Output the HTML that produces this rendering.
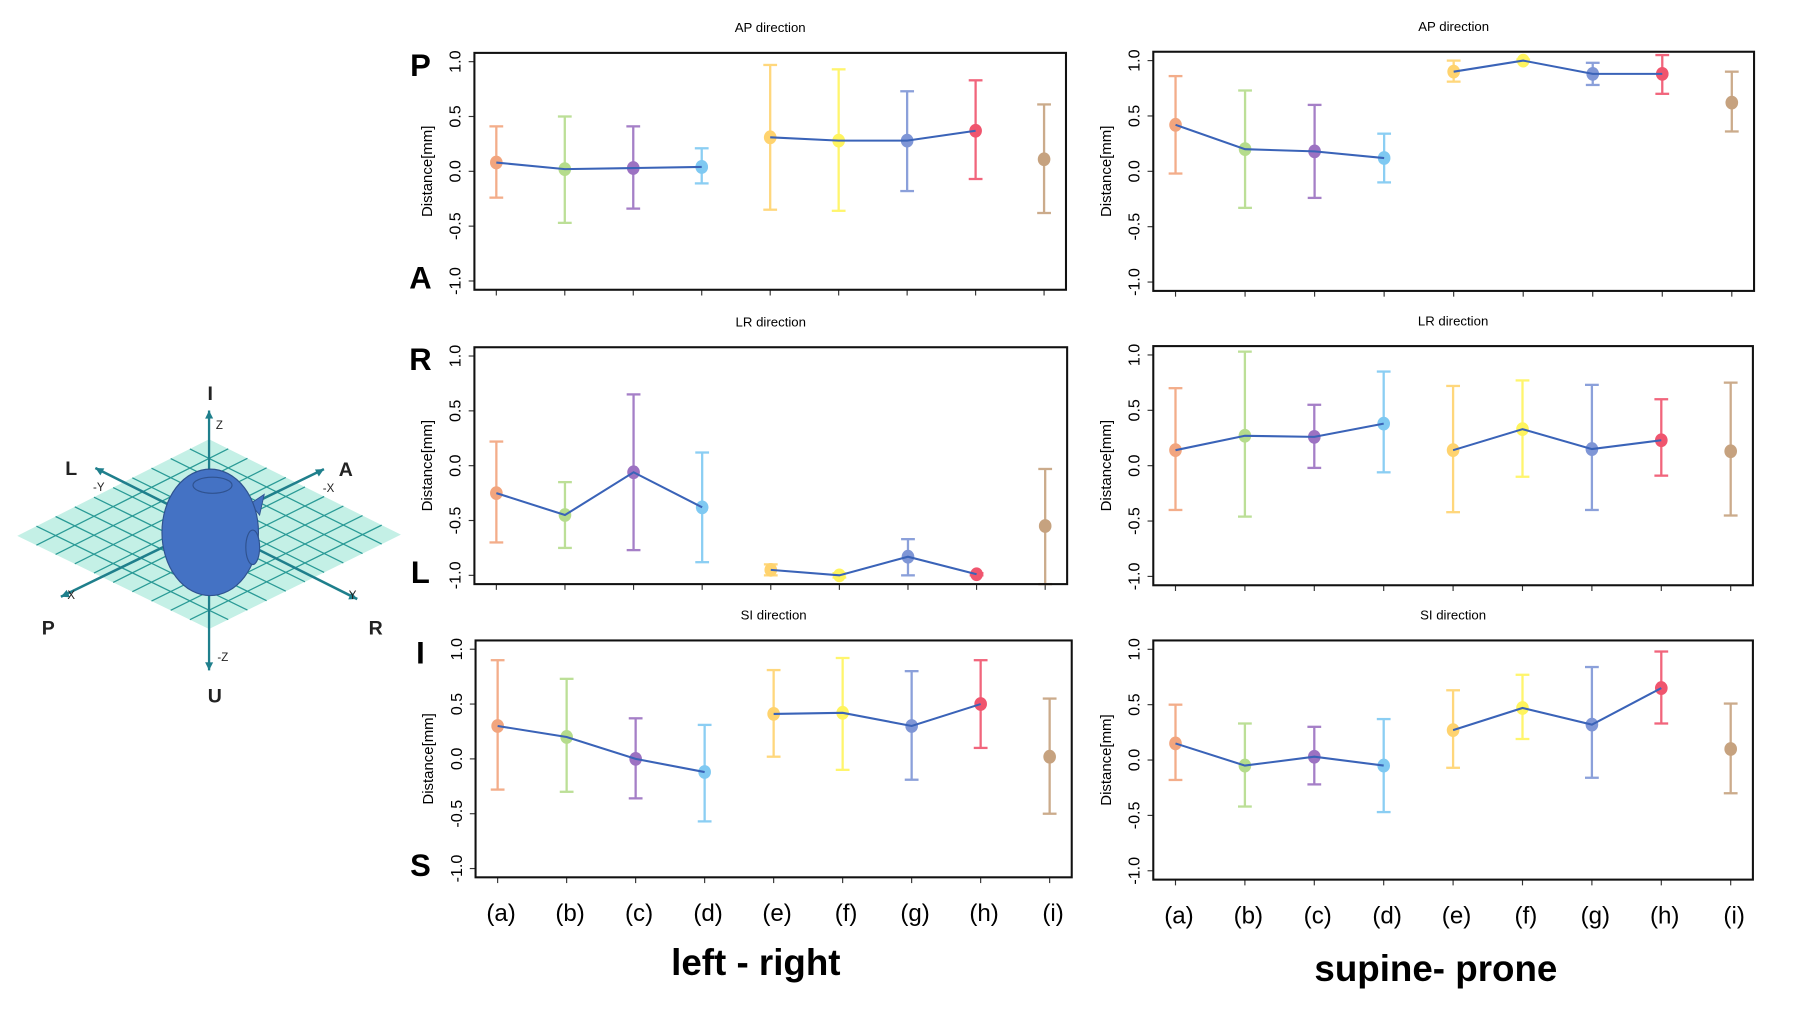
<!DOCTYPE html>
<html><head><meta charset="utf-8"><style>
html,body{margin:0;padding:0;background:#fff;}
svg{display:block;}
text{font-family:"Liberation Sans",sans-serif;}
</style></head><body>
<svg id="fig" width="1800" height="1013" viewBox="0 0 1567 881" preserveAspectRatio="none" xmlns="http://www.w3.org/2000/svg">
<g id="diagram"></g>
<g id="charts"></g>
<text x="658" y="848" font-size="32" font-weight="bold" text-anchor="middle">left - right</text>
<text x="1250" y="853" font-size="32" font-weight="bold" text-anchor="middle">supine- prone</text>
</svg>
<script>
const categories = ['(a)','(b)','(c)','(d)','(e)','(f)','(g)','(h)','(i)'];
const colors = ['#F2A57E','#B5DC8C','#9C72C2','#7FC9F2','#FFD36E','#FFF45E','#7F96D6','#F0556E','#C6A27F'];
const yTicks = [-1.0,-0.5,0.0,0.5,1.0];
const yTickLabels = ['-1.0','-0.5','0.0','0.5','1.0'];
const apLRMean = [0.08,0.02,0.03,0.04,0.31,0.28,0.28,0.37,0.11];
const apLRLow  = [-0.24,-0.47,-0.34,-0.11,-0.35,-0.36,-0.18,-0.07,-0.38];
const apLRHigh = [0.41,0.50,0.41,0.21,0.97,0.93,0.73,0.83,0.61];
const apSPMean = [0.42,0.20,0.18,0.12,0.90,1.00,0.88,0.88,0.62];
const apSPLow  = [-0.02,-0.33,-0.24,-0.10,0.81,0.99,0.78,0.70,0.36];
const apSPHigh = [0.86,0.73,0.60,0.34,1.00,1.01,0.98,1.05,0.90];
const lrLRMean = [-0.25,-0.45,-0.06,-0.38,-0.95,-1.00,-0.83,-0.99,-0.55];
const lrLRLow  = [-0.70,-0.75,-0.77,-0.88,-1.00,-1.02,-1.00,-1.00,-1.08];
const lrLRHigh = [0.22,-0.15,0.65,0.12,-0.90,-0.98,-0.67,-0.98,-0.03];
const lrSPMean = [0.14,0.27,0.26,0.38,0.14,0.33,0.15,0.23,0.13];
const lrSPLow  = [-0.40,-0.46,-0.02,-0.06,-0.42,-0.10,-0.40,-0.09,-0.45];
const lrSPHigh = [0.70,1.03,0.55,0.85,0.72,0.77,0.73,0.60,0.75];
const siLRMean = [0.30,0.20,0.00,-0.12,0.41,0.42,0.30,0.50,0.02];
const siLRLow  = [-0.28,-0.30,-0.36,-0.57,0.02,-0.10,-0.19,0.10,-0.50];
const siLRHigh = [0.90,0.73,0.37,0.31,0.81,0.92,0.80,0.90,0.55];
const siSPMean = [0.15,-0.05,0.03,-0.05,0.27,0.47,0.32,0.65,0.10];
const siSPLow  = [-0.18,-0.42,-0.22,-0.47,-0.07,0.19,-0.16,0.33,-0.30];
const siSPHigh = [0.50,0.33,0.30,0.37,0.63,0.77,0.84,0.98,0.51];

const NS='http://www.w3.org/2000/svg';
function mk(tag, attrs, parent){const e=document.createElementNS(NS,tag);for(const k in attrs)e.setAttribute(k,attrs[k]);parent.appendChild(e);return e;}
const charts=document.getElementById('charts');

const panels=[
 {name:'ap-left-right',title:'AP direction',L:413,R:928,T:46,B:252,mean:apLRMean,lo:apLRLow,hi:apLRHigh,top:'P',bot:'A',xl:false},
 {name:'ap-supine-prone',title:'AP direction',L:1004,R:1527,T:45,B:253,mean:apSPMean,lo:apSPLow,hi:apSPHigh,xl:false},
 {name:'lr-left-right',title:'LR direction',L:413,R:929,T:302,B:508,mean:lrLRMean,lo:lrLRLow,hi:lrLRHigh,top:'R',bot:'L',xl:false},
 {name:'lr-supine-prone',title:'LR direction',L:1004,R:1526,T:301,B:509,mean:lrSPMean,lo:lrSPLow,hi:lrSPHigh,xl:false},
 {name:'si-left-right',title:'SI direction',L:414,R:933,T:557,B:763,mean:siLRMean,lo:siLRLow,hi:siLRHigh,top:'I',bot:'S',xl:true},
 {name:'si-supine-prone',title:'SI direction',L:1004,R:1526,T:557,B:765,mean:siSPMean,lo:siSPLow,hi:siSPHigh,xl:true}
];

panels.forEach(p=>{
  const g=mk('g',{},charts);
  
  
  const w=p.R-p.L,h=p.B-p.T;
  const X=i=>p.L+(i+1-0.68)/8.64*w;
  const Y=v=>p.B-(v+1.08)/2.16*h;
  const cx=(p.L+p.R)/2;
  const t=mk('text',{x:cx,y:p.T-18,'font-size':11.5,'text-anchor':'middle'},g);
  t.textContent=p.title;
  
  
  yTicks.forEach((v,k)=>{
    const yy=Y(v);
    mk('line',{x1:p.L-5,x2:p.L,y1:yy,y2:yy,stroke:'#333','stroke-width':1},g);
    const tl=mk('text',{x:0,y:0,'font-size':14,'text-anchor':'middle',transform:`translate(${p.L-12},${yy}) rotate(-90)`},g);
    tl.textContent=yTickLabels[k];
    
    
  });
  const yt=mk('text',{x:0,y:0,'font-size':13,'text-anchor':'middle',transform:`translate(${p.L-37},${(p.T+p.B)/2}) rotate(-90)`},g);
  yt.textContent='Distance[mm]';
  
  
  categories.forEach((c,i)=>{
    mk('line',{x1:X(i),x2:X(i),y1:p.B,y2:p.B+5,stroke:'#333','stroke-width':1},g);
    if(p.xl){
      const xl=mk('text',{x:X(i)+3,y:p.B+38,'font-size':21,'text-anchor':'middle'},g);
      xl.textContent=c;
      
      
    }
  });
  if(p.top){
    const a=mk('text',{x:366,y:p.T+20,'font-size':27,'font-weight':'bold','text-anchor':'middle'},g);
    a.textContent=p.top;
    
    
    const b=mk('text',{x:366,y:p.B-1,'font-size':27,'font-weight':'bold','text-anchor':'middle'},g);
    b.textContent=p.bot;
    
    
  }
  categories.forEach((c,i)=>{
    const eb=mk('g',{stroke:colors[i],'stroke-width':2,opacity:0.9},g);
    
    
    mk('line',{x1:X(i),x2:X(i),y1:Y(p.lo[i]),y2:Y(p.hi[i])},eb);
    mk('line',{x1:X(i)-6,x2:X(i)+6,y1:Y(p.lo[i]),y2:Y(p.lo[i])},eb);
    mk('line',{x1:X(i)-6,x2:X(i)+6,y1:Y(p.hi[i]),y2:Y(p.hi[i])},eb);
  });
  categories.forEach((c,i)=>{
    const pt=mk('ellipse',{cx:X(i),cy:Y(p.mean[i]),rx:5.5,ry:6,fill:colors[i]},g);
    
    
  });
  [[0,4],[4,8]].forEach(([s,e])=>{
    const pts=[];for(let i=s;i<e;i++)pts.push(X(i)+','+Y(p.mean[i]));
    const pl=mk('polyline',{points:pts.join(' '),fill:'none',stroke:'#3A63B8','stroke-width':1.8},g);
    
    
  });
  const box=mk('rect',{x:p.L,y:p.T,width:w,height:h,fill:'none',stroke:'#111','stroke-width':1.8},g);
  
  
});

const d=document.getElementById('diagram');
const Lp=[15,466],Rp=[349,465],Tp=[182,382],Bp=[182,547];
mk('polygon',{points:[Lp,Tp,Rp,Bp].map(q=>q.join(',')).join(' '),fill:'#C4F0E6'},d);
const lerp=(a,b,t)=>[a[0]+(b[0]-a[0])*t,a[1]+(b[1]-a[1])*t];
for(let k=1;k<10;k++){
  const t=k/10;
  const a=lerp(Lp,Tp,t),b=lerp(Bp,Rp,t);
  mk('line',{x1:a[0],y1:a[1],x2:b[0],y2:b[1],stroke:'#2A9A96','stroke-width':1.1},d);
  const c2=lerp(Lp,Bp,t),e2=lerp(Tp,Rp,t);
  mk('line',{x1:c2[0],y1:c2[1],x2:e2[0],y2:e2[1],stroke:'#2A9A96','stroke-width':1.1},d);
}
const ax='#1F7F8C';
mk('line',{x1:83,y1:407,x2:311,y2:521,stroke:ax,'stroke-width':2.2},d);
mk('line',{x1:282,y1:408,x2:53,y2:519,stroke:ax,'stroke-width':2.2},d);
mk('line',{x1:182,y1:357,x2:182,y2:583,stroke:ax,'stroke-width':2},d);
[[83,407],[311,521],[282,408],[53,519],[182,357],[182,583]].forEach(a=>{
  const cx=183,cy=463;
  let dx=a[0]-cx,dy=a[1]-cy; const n=Math.hypot(dx,dy);dx/=n;dy/=n;
  const px=-dy,py=dx;
  mk('polygon',{points:`${a[0]},${a[1]} ${a[0]-dx*7+px*3.5},${a[1]-dy*7+py*3.5} ${a[0]-dx*7-px*3.5},${a[1]-dy*7-py*3.5}`,fill:ax},d);
});
const head=mk('g',{},d);


mk('polygon',{points:'218,438 230,430 226,448',fill:'#4472C4',stroke:'#2F528F','stroke-width':0.8},head);
mk('ellipse',{cx:183,cy:463,rx:42,ry:55,fill:'#4472C4',stroke:'#2F528F','stroke-width':1},head);
mk('ellipse',{cx:185,cy:422,rx:17,ry:7,fill:'#4472C4',stroke:'#2F528F','stroke-width':1},head);
mk('ellipse',{cx:220,cy:476,rx:6,ry:15,fill:'#4472C4',stroke:'#2F528F','stroke-width':1},head);
[[183,348,'I',17,true],[62,413,'L',17,true],[301,414,'A',17,true],[42,552,'P',17,true],[327,552,'R',17,true],[187,611,'U',17,true],
 [191,373,'Z',10,false],[86,427,'-Y',10,false],[286,428,'-X',10,false],[62,521,'X',10,false],[307,521,'Y',10,false],[194,575,'-Z',10,false]].forEach(a=>{
  const t=mk('text',{x:a[0],y:a[1],'font-size':a[3],'font-weight':a[4]?'bold':'normal','text-anchor':'middle',fill:'#222'},d);
  t.textContent=a[2];
  
  
});
</script>
</body></html>
